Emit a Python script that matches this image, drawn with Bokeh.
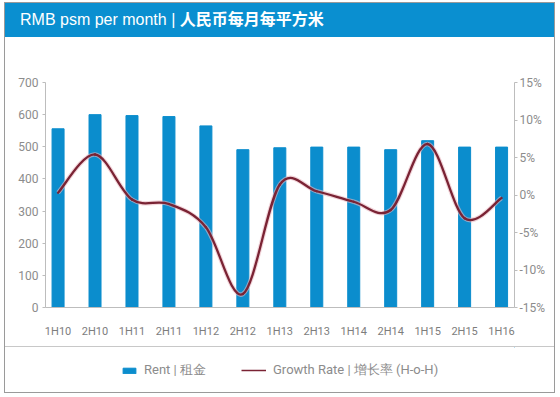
from bokeh.plotting import figure
from bokeh.models import (Range1d, LinearAxis, FixedTicker, Div, Legend, LegendItem,
                          PrintfTickFormatter)
from bokeh.layouts import column
from bokeh.embed import file_html
from bokeh.resources import INLINE

# ---- data ----
categories = ["1H10", "2H10", "1H11", "2H11", "1H12", "2H12", "1H13",
              "2H13", "1H14", "2H14", "1H15", "2H15", "1H16"]
rent = [556, 600, 597, 594, 565, 491, 497, 499, 499, 491, 519, 499, 499]
growth = [0.3, 5.4, -0.6, -1.2, -4.3, -13.2, 1.4, 0.5, -0.9, -2.0, 6.8, -3.1, -0.4]
rent_ticks = [0, 100, 200, 300, 400, 500, 600, 700]
growth_ticks = [-15, -10, -5, 0, 5, 10, 15]
title_en = "RMB psm per month | "
title_cn = "人民币每月每平方米"
rent_label = "Rent | 租金"
growth_label = "Growth Rate | 增长率 (H-o-H)"

BLUE = "#0b8dcd"
HEADER_BLUE = "#0a8fd0"
LINE = "#7a2334"
GREY_TXT = "#8c8c8c"
AXIS = "#bdbdbd"
FONT = "Roboto"

W = 549

header = Div(
    text=('<div style="padding-left:15px;line-height:34px;height:34px;'
          'font-family:\'Liberation Sans\',\'Noto Sans CJK SC\',sans-serif;'
          'font-size:16px;color:white;white-space:nowrap;">'
          + title_en + '<b>' + title_cn + '</b></div>'),
    width=W, height=34, margin=0,
    styles={"background-color": HEADER_BLUE})

p = figure(width=W, height=309, x_range=Range1d(-0.34, 12.35), y_range=Range1d(0, 700),
           output_backend="svg", toolbar_location=None,
           min_border_left=40, min_border_right=40, min_border_top=45, min_border_bottom=39)
p.extra_y_ranges = {"g": Range1d(-15, 15)}

xs = list(range(len(categories)))
p.vbar(x=xs, top=rent, width=0.325, color=BLUE)

# smooth (Catmull-Rom style) curve through the growth points using bezier glyph
n = len(growth)
x0, y0, x1, y1, cx0, cy0, cx1, cy1 = [], [], [], [], [], [], [], []
for i in range(n - 1):
    xp = xs[i - 1] if i > 0 else xs[i]
    yp = growth[i - 1] if i > 0 else growth[i]
    xn = xs[i + 2] if i + 2 < n else xs[i + 1]
    yn = growth[i + 2] if i + 2 < n else growth[i + 1]
    x0.append(xs[i]); y0.append(growth[i])
    x1.append(xs[i + 1]); y1.append(growth[i + 1])
    cx0.append(xs[i] + (xs[i + 1] - xp) / 6.0)
    cy0.append(growth[i] + (growth[i + 1] - yp) / 6.0)
    cx1.append(xs[i + 1] - (xn - xs[i]) / 6.0)
    cy1.append(growth[i + 1] - (yn - growth[i]) / 6.0)
p.bezier(x0=x0, y0=y0, x1=x1, y1=y1, cx0=cx0, cy0=cy0, cx1=cx1, cy1=cy1,
         line_color="#e9b9c2", line_width=4.5, line_alpha=0.6, y_range_name="g")
p.bezier(x0=x0, y0=y0, x1=x1, y1=y1, cx0=cx0, cy0=cy0, cx1=cx1, cy1=cy1,
         line_color=LINE, line_width=2.3, line_cap="round", y_range_name="g")

# axes
xa = p.xaxis[0]
xa.ticker = FixedTicker(ticks=xs)
xa.major_label_overrides = {i: c for i, c in enumerate(categories)}
xa.major_tick_line_color = None
xa.minor_tick_line_color = None
xa.axis_line_color = AXIS
xa.major_label_standoff = 11
xa.major_label_text_font = FONT
xa.major_label_text_font_size = "11px"
xa.major_label_text_color = "#7d7d7d"

ya = p.yaxis[0]
ya.ticker = FixedTicker(ticks=rent_ticks)
ya.minor_tick_line_color = None
ya.major_tick_in = 0
ya.major_tick_out = 3
ya.major_tick_line_color = AXIS
ya.axis_line_color = AXIS
ya.major_label_standoff = 4
ya.major_label_text_font = FONT
ya.major_label_text_font_size = "12px"
ya.major_label_text_color = GREY_TXT

ra = LinearAxis(y_range_name="g", ticker=FixedTicker(ticks=growth_ticks),
                formatter=PrintfTickFormatter(format="%d%%"))
ra.minor_tick_line_color = None
ra.major_tick_in = 0
ra.major_tick_out = 3
ra.major_tick_line_color = AXIS
ra.axis_line_color = AXIS
ra.major_label_standoff = 2
ra.major_label_text_font = FONT
ra.major_label_text_font_size = "12px"
ra.major_label_text_color = GREY_TXT
p.add_layout(ra, "right")

p.xgrid.visible = False
p.ygrid.visible = False
p.outline_line_color = None

sep = Div(text="", width=W, height=1, margin=0, styles={"background-color": "#c8c8c8"})

# legend strip (renderers placed outside the visible range; only legend shows)
p2 = figure(width=W, height=45, x_range=Range1d(0, 1), y_range=Range1d(0, 1),
            output_backend="svg", toolbar_location=None,
            x_axis_location=None, y_axis_location=None,
            min_border_left=0, min_border_right=0, min_border_top=0, min_border_bottom=0)
p2.xgrid.visible = False
p2.ygrid.visible = False
p2.outline_line_color = None
r1 = p2.vbar(x=[5], top=[5], bottom=[4], width=0.1, color=BLUE)
r2 = p2.line(x=[5, 6], y=[5, 6], line_color=LINE, line_width=1.5)

for lab, rend, loc, gw, gh in [(rent_label, r1, (76, 13), 16, 7),
                               (growth_label, r2, (196, 13), 25, 8)]:
    lg = Legend(items=[LegendItem(label=lab, renderers=[rend])], location=loc,
                padding=0, margin=0, border_line_color=None, background_fill_alpha=0,
                glyph_width=gw, glyph_height=gh, label_standoff=7,
                label_text_font=FONT, label_text_font_size="13px",
                label_text_color=GREY_TXT)
    p2.add_layout(lg)

layout = column(header, p, sep, p2, spacing=0, margin=(2, 0, 0, 4),
                styles={"border": "1px solid #9a9a9a"})

open("out.html", "w").write(file_html(layout, INLINE))
